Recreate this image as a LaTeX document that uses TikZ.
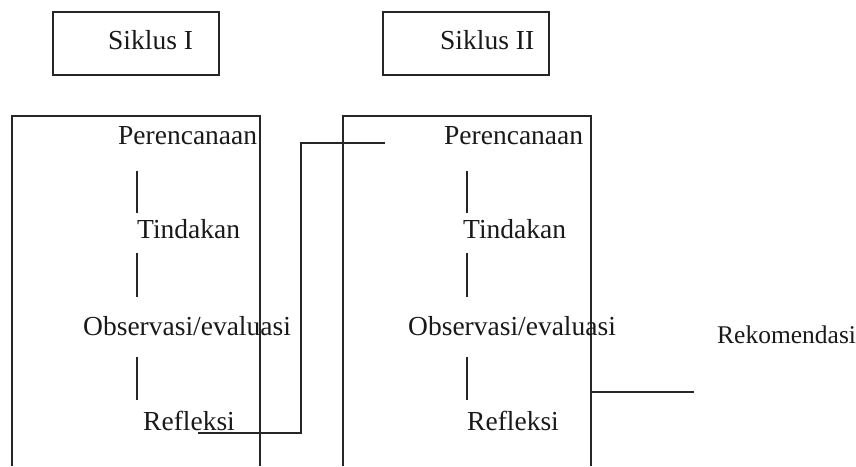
\documentclass[tikz,border=0pt]{standalone}
\usepackage{fontspec}
\setmainfont{Liberation Serif}
\begin{document}
\begin{tikzpicture}[x=1pt,y=-1pt,
  ln/.style={line width=1.1pt, draw=black!85},
  box/.style={ln, rectangle, inner sep=0pt},
  lbl/.style={inner sep=0pt, anchor=base west, font=\fontsize{27.5}{33}\selectfont, text=black!90}]
\useasboundingbox (0,0) rectangle (856,466);
% header boxes
\node[box, minimum width=166pt, minimum height=63pt] (s1) at (136,43.5) {};
\node[lbl] (s1t) at (108,49) {Siklus I};
\node[box, minimum width=166pt, minimum height=63pt] (s2) at (466,43.5) {};
\node[lbl] (s2t) at (440,49) {Siklus II};
% open frames
\coordinate (f1a) at (12,466); \coordinate (f1b) at (12,116);
\coordinate (f1c) at (260,116); \coordinate (f1d) at (260,466);
\draw[ln] (f1a) -- (f1b) -- (f1c) -- (f1d);
\coordinate (f2a) at (343,466); \coordinate (f2b) at (343,116);
\coordinate (f2c) at (591,116); \coordinate (f2d) at (591,466);
\draw[ln] (f2a) -- (f2b) -- (f2c) -- (f2d);
% cycle I
\node[lbl] (p1) at (118,144) {Perencanaan};
\node[lbl] (t1) at (137,238) {Tindakan};
\node[lbl] (o1) at (83,335) {Observasi/evaluasi};
\node[lbl] (r1) at (143,430) {Refleksi};
\coordinate (a1) at (137,171); \coordinate (b1) at (137,213);
\coordinate (c1) at (137,253); \coordinate (d1) at (137,297);
\coordinate (e1) at (137,357); \coordinate (g1) at (137,400);
\draw[ln] (a1) -- (b1); \draw[ln] (c1) -- (d1); \draw[ln] (e1) -- (g1);
% cycle II
\node[lbl] (p2) at (444,144) {Perencanaan};
\node[lbl] (t2) at (463,238) {Tindakan};
\node[lbl] (o2) at (408,335) {Observasi/evaluasi};
\node[lbl] (r2) at (467,430) {Refleksi};
\coordinate (a2) at (467,171); \coordinate (b2) at (467,213);
\coordinate (c2) at (467,253); \coordinate (d2) at (467,297);
\coordinate (e2) at (467,357); \coordinate (g2) at (467,400);
\draw[ln] (a2) -- (b2); \draw[ln] (c2) -- (d2); \draw[ln] (e2) -- (g2);
% link between cycles
\coordinate (k1) at (198,433); \coordinate (k2) at (385,143);
\draw[ln] (k1) -- (301,433) -- (301,143) -- (k2);
% recommendation
\node[lbl] (rk) at (717,343) {\fontsize{25.5}{30}\selectfont Rekomendasi};
\coordinate (m1) at (591,392); \coordinate (m2) at (694,392);
\draw[ln] (m1) -- (m2);
\end{tikzpicture}
\end{document}
